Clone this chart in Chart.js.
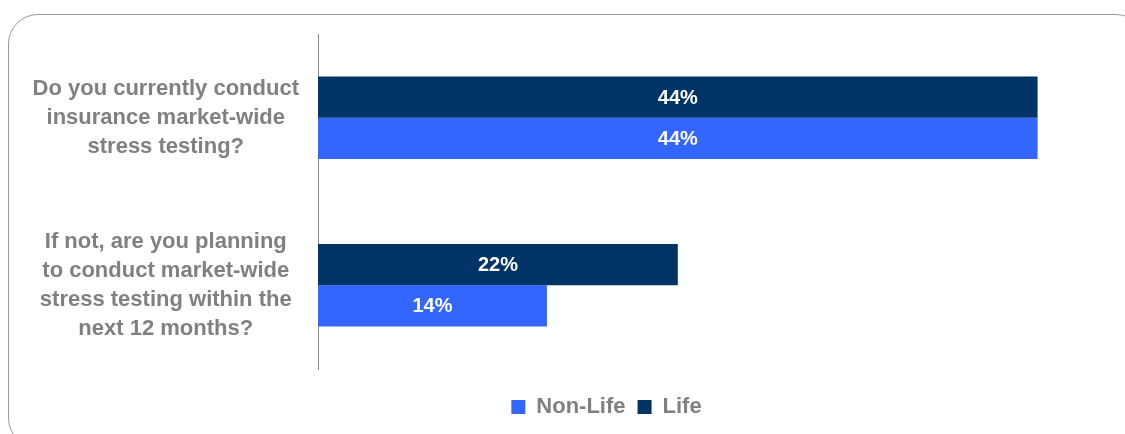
<!DOCTYPE html>
<html>
<head>
<meta charset="utf-8">
<script src="https://cdn.jsdelivr.net/npm/chart.js@4/dist/chart.umd.min.js"></script>
<style>
  html, body { margin: 0; padding: 0; background: #fff; overflow: hidden; }
  #wrap { position: relative; width: 1125px; height: 434px; overflow: hidden; }
  /* rounded frame, runs off the right and bottom edges */
  #frame {
    position: absolute; left: 8px; top: 14px; width: 1138px; height: 434px;
    border: 1.5px solid #999; border-radius: 30px; box-sizing: border-box;
  }
  #chart { position: absolute; left: 0; top: 0; }
</style>
</head>
<body>
<div id="wrap">
  <div id="frame"></div>
  <canvas id="chart" width="1125" height="434"></canvas>
</div>
<script>
const categories = [
  ["Do you currently conduct", "insurance market-wide", "stress testing?"],
  ["If not, are you planning", "to conduct market-wide", "stress testing within the", "next 12 months?"]
];
const lifeValues = [44, 22];
const nonLifeValues = [44, 14];
const seriesNames = ["Life", "Non-Life"];

const grey = "#808080";
const font = "'Liberation Sans', Arial, sans-serif";

// white value labels in the middle of each bar
const barLabels = {
  id: "barLabels",
  afterDatasetsDraw(chart) {
    const ctx = chart.ctx;
    ctx.save();
    ctx.fillStyle = "#fff";
    ctx.font = "bold 20px " + font;
    ctx.textAlign = "center";
    ctx.textBaseline = "middle";
    chart.data.datasets.forEach((ds, i) => {
      chart.getDatasetMeta(i).data.forEach((bar, j) => {
        ctx.fillText(ds.data[j] + "%", (bar.x + bar.base) / 2, bar.y + 1);
      });
    });
    ctx.restore();
  }
};

// the legend sits a bit right of the canvas centre and lower down
const legendShift = {
  id: "legendShift",
  afterLayout(chart) {
    const lg = chart.legend;
    lg.left += 45; lg.right += 45;
    lg.top += 15; lg.bottom += 15;
  }
};

new Chart(document.getElementById("chart"), {
  type: "bar",
  data: {
    labels: categories,
    datasets: [
      { label: seriesNames[0], data: lifeValues, backgroundColor: "#003366" },
      { label: seriesNames[1], data: nonLifeValues, backgroundColor: "#3366FF" }
    ]
  },
  options: {
    indexAxis: "y",
    responsive: false,
    animation: false,
    categoryPercentage: 0.494,
    barPercentage: 1,
    layout: { padding: { left: 20, right: 22, top: 34, bottom: 21 } },
    scales: {
      x: { display: false, min: 0, max: 48 },
      y: {
        grid: { display: false, drawTicks: false },
        border: { display: true, color: "#888", width: 1 },
        ticks: {
          color: grey,
          padding: 19,
          crossAlign: "center",
          font: { family: font, size: 22, weight: "bold", lineHeight: 1.32 }
        },
        afterFit(scale) {
          scale.width = 298;
          scale.paddingTop = 0;
          scale.paddingBottom = 0;
        }
      }
    },
    plugins: {
      legend: {
        position: "bottom",
        reverse: true,
        labels: {
          color: grey,
          boxWidth: 14,
          boxHeight: 14,
          padding: 12,
          font: { family: font, size: 22, weight: "bold" }
        }
      },
      tooltip: { enabled: false }
    }
  },
  plugins: [barLabels, legendShift]
});
</script>
</body>
</html>
